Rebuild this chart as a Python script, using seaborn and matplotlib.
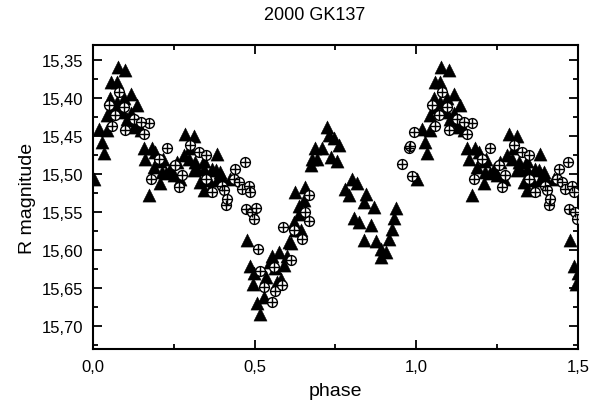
import seaborn as sns
import matplotlib.pyplot as plt
import pandas as pd
from matplotlib.ticker import FuncFormatter, MultipleLocator

# Phase-folded light curve of 2000 GK137 (phase 0..1, shown again at phase + 1)
tri_phase = [0.002, 0.018, 0.043, 0.028, 0.033, 0.057, 0.074, 0.077, 0.100, 0.043,
             0.059, 0.074, 0.095, 0.116, 0.136, 0.090, 0.105, 0.126, 0.147, 0.157,
             0.183, 0.162, 0.188, 0.208, 0.208, 0.172, 0.213, 0.239, 0.286, 0.312,
             0.301, 0.280, 0.317, 0.260, 0.250, 0.270, 0.343, 0.332, 0.343, 0.384,
             0.368, 0.394, 0.384, 0.363, 0.312, 0.343,
             0.054, 0.085, 0.116, 0.131, 0.141, 0.193, 0.216, 0.227, 0.296, 0.322,
             0.358, 0.379, 0.399, 0.425,
             0.475, 0.487, 0.499, 0.494, 0.508, 0.516, 0.528, 0.534, 0.554, 0.564,
             0.575, 0.580, 0.590, 0.606, 0.600, 0.621, 0.626, 0.637, 0.642, 0.657,
             0.652, 0.673, 0.678, 0.688, 0.709, 0.693, 0.724, 0.729, 0.745, 0.760,
             0.735, 0.755, 0.626, 0.611, 0.637, 0.549, 0.569,
             0.802, 0.817, 0.781, 0.792, 0.843, 0.838, 0.869, 0.807, 0.822, 0.859,
             0.838, 0.874, 0.890, 0.905, 0.890, 0.915, 0.926, 0.931, 0.936]
tri_mag = [15.506, 15.440, 15.442, 15.458, 15.472, 15.379, 15.379, 15.359, 15.363, 15.422,
           15.411, 15.405, 15.400, 15.394, 15.409, 15.418, 15.427, 15.438, 15.442, 15.466,
           15.466, 15.480, 15.490, 15.482, 15.512, 15.528, 15.497, 15.493, 15.447, 15.450,
           15.466, 15.475, 15.484, 15.484, 15.501, 15.506, 15.493, 15.510, 15.521, 15.474,
           15.493, 15.497, 15.508, 15.519, 15.495, 15.482,
           15.400, 15.411, 15.420, 15.429, 15.436, 15.471, 15.480, 15.499, 15.480, 15.493,
           15.508, 15.495, 15.504, 15.506,
           15.586, 15.621, 15.630, 15.644, 15.670, 15.684, 15.662, 15.635, 15.607, 15.623,
           15.602, 15.638, 15.620, 15.589, 15.607, 15.563, 15.523, 15.542, 15.574, 15.517,
           15.534, 15.488, 15.480, 15.466, 15.466, 15.480, 15.438, 15.449, 15.453, 15.462,
           15.477, 15.482, 15.574, 15.591, 15.552, 15.616, 15.642,
           15.506, 15.512, 15.519, 15.528, 15.526, 15.537, 15.543, 15.558, 15.563, 15.567,
           15.587, 15.588, 15.598, 15.602, 15.609, 15.585, 15.572, 15.558, 15.545]

circ_phase = [0.049, 0.059, 0.079, 0.069, 0.095, 0.100, 0.126, 0.157, 0.172, 0.147,
              0.178, 0.203, 0.229, 0.255, 0.265, 0.275, 0.301, 0.327, 0.348, 0.348,
              0.368, 0.399, 0.404, 0.410, 0.415, 0.436, 0.440, 0.451, 0.469, 0.461,
              0.482, 0.487, 0.472, 0.492, 0.505, 0.497,
              0.511, 0.518, 0.528, 0.554, 0.564, 0.559, 0.585, 0.588, 0.611, 0.621,
              0.647, 0.667, 0.657, 0.668,
              0.957, 0.977, 0.980, 0.988, 0.993]
circ_mag = [15.409, 15.436, 15.392, 15.422, 15.411, 15.442, 15.427, 15.447, 15.433, 15.431,
            15.506, 15.480, 15.466, 15.488, 15.517, 15.501, 15.462, 15.471, 15.475, 15.506,
            15.523, 15.515, 15.521, 15.541, 15.532, 15.506, 15.493, 15.510, 15.484, 15.519,
            15.515, 15.523, 15.546, 15.550, 15.544, 15.559,
            15.598, 15.627, 15.649, 15.668, 15.654, 15.622, 15.646, 15.569, 15.613, 15.574,
            15.585, 15.561, 15.550, 15.528,
            15.487, 15.466, 15.463, 15.503, 15.444]


def fold(phase, mag):
    # repeat the first half cycle after phase 1
    df = pd.DataFrame({"phase": phase, "mag": mag})
    extra = df[df["phase"] <= 0.5].copy()
    extra["phase"] = extra["phase"] + 1.0
    return pd.concat([df, extra], ignore_index=True)


tri = fold(tri_phase, tri_mag)
circ = fold(circ_phase, circ_mag)

sns.set_style("ticks")
plt.rcParams["font.family"] = ["Liberation Sans", "DejaVu Sans"]
plt.rcParams["text.color"] = "black"
plt.rcParams["axes.labelcolor"] = "black"

fig = plt.figure(figsize=(6.02, 4.10), dpi=100)
ax = fig.add_axes([0.1545, 0.1463, 0.8055, 0.7415])

sns.scatterplot(data=tri, x="phase", y="mag", ax=ax, marker="^", s=90,
                color="black", edgecolor="black", linewidth=0.3, zorder=2)
sns.scatterplot(data=circ, x="phase", y="mag", ax=ax, marker="o", s=50,
                facecolor="white", edgecolor="black", linewidth=1.0, zorder=3)
sns.scatterplot(data=circ, x="phase", y="mag", ax=ax, marker="+", s=50,
                color="black", linewidth=1.0, zorder=4)

ax.set_xlim(0, 1.5)
ax.set_ylim(15.73, 15.33)

ax.xaxis.set_major_locator(MultipleLocator(0.5))
ax.xaxis.set_minor_locator(MultipleLocator(0.25))
ax.yaxis.set_major_locator(MultipleLocator(0.05))
ax.yaxis.set_minor_locator(MultipleLocator(0.025))
ax.xaxis.set_major_formatter(FuncFormatter(lambda v, p: f"{v:.1f}".replace(".", ",")))
ax.yaxis.set_major_formatter(FuncFormatter(lambda v, p: f"{v:.2f}".replace(".", ",")))

ax.tick_params(which="both", direction="in", top=True, right=True,
               width=1.3, colors="black", labelsize=12)
ax.tick_params(which="major", length=6.5, pad=7)
ax.tick_params(which="minor", length=3.6)

for sp in ax.spines.values():
    sp.set_linewidth(1.5)
    sp.set_color("black")

ax.set_xlabel("phase", fontsize=14, labelpad=6)
ax.set_ylabel("R magnitude", fontsize=14, labelpad=4)
fig.text(0.523, 0.962, "2000 GK137", fontsize=13, ha="center", va="center")

plt.savefig("out.png", dpi=100)
plt.close()
